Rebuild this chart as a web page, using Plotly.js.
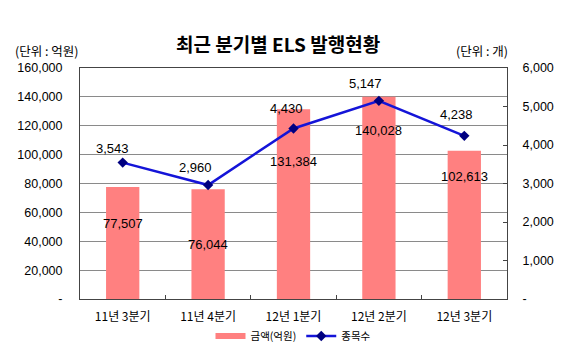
<!DOCTYPE html>
<html><head><meta charset="utf-8">
<script src="https://cdn.plot.ly/plotly-3.0.1.min.js"></script>
<style>html,body{margin:0;padding:0;background:#fff}#c{width:580px;height:357px}</style>
</head><body><div id="c"></div>
<script>
const categories = ["11년 3분기","11년 4분기","12년 1분기","12년 2분기","12년 3분기"];
const amounts = [77507, 76044, 131384, 140028, 102613];
const counts = [3543, 2960, 4430, 5147, 4238];
const amountLabels = ["77,507","76,044","131,384","140,028","102,613"];
const countLabels = ["3,543","2,960","4,430","5,147","4,238"];
const leftTickVals = [0,20000,40000,60000,80000,100000,120000,140000,160000];
const leftTickText = ["-","20,000","40,000","60,000","80,000","100,000","120,000","140,000","160,000"];
const rightTickVals = [0,1000,2000,3000,4000,5000,6000];
const rightTickText = ["-","1,000","2,000","3,000","4,000","5,000","6,000"];

// label offsets (pixels) relative to marks
const barLabelShift = [-36,-55,-52,-34,-26];
const cntLabelDx = [-10,-13,-7,-13,-8];
const cntLabelDy = [14,18,20,17,21];

const F = "Liberation Sans, Arial, Noto Sans CJK KR, sans-serif";
const FK = "Noto Sans CJK KR, sans-serif";

const traces = [
  {type:"bar", x:categories, y:amounts, name:"금액(억원)", marker:{color:"#FF8080"}, width:0.39, yaxis:"y", showlegend:false},
  {type:"scatter", mode:"lines", x:[null], y:[null], name:"금액(억원)", yaxis:"y",
   line:{color:"#FF8080", width:6}, showlegend:true},
  {type:"scatter", mode:"lines+markers", x:categories, y:counts, name:"종목수", yaxis:"y2",
   line:{color:"#1414D8", width:2.5}, marker:{symbol:"diamond", size:8, color:"#000080"}}
];

const ann = [];
categories.forEach((c,i)=>{
  ann.push({x:c, y:amounts[i], xref:"x", yref:"y", text:amountLabels[i], showarrow:false,
    yshift:barLabelShift[i], font:{family:F, size:13, color:"#000"}});
  ann.push({x:c, y:counts[i], xref:"x", yref:"y2", text:countLabels[i], showarrow:false,
    xshift:cntLabelDx[i], yshift:cntLabelDy[i], font:{family:F, size:13, color:"#000"}});
});
ann.push({xref:"paper", yref:"paper", x:0.464, y:1.0, yanchor:"middle", yshift:25, text:"<b>최근 분기별 ELS 발행현황</b>", showarrow:false,
  font:{family:FK, size:19, color:"#000"}});
ann.push({xref:"paper", yref:"paper", x:-0.157, y:1.0, yanchor:"middle", yshift:18, xanchor:"left", text:"(단위 : 억원)", showarrow:false,
  font:{family:FK, size:12.5, color:"#000"}});
ann.push({xref:"paper", yref:"paper", x:1.007, y:1.0, yanchor:"middle", yshift:18, xanchor:"right", text:"(단위 : 개)", showarrow:false,
  font:{family:FK, size:12.5, color:"#000"}});

const layout = {
  width:580, height:357, margin:{l:80, r:73, t:68, b:58, autoexpand:false},
  paper_bgcolor:"#fff", plot_bgcolor:"#fff",
  showlegend:true,
  legend:{orientation:"h", x:0.50, xanchor:"center", y:-0.16, yanchor:"middle", bgcolor:"rgba(0,0,0,0)",
    font:{family:FK, size:10.5, color:"#000"}, itemwidth:30, tracegroupgap:0},
  xaxis:{type:"category", showline:true, linecolor:"#444", linewidth:1, mirror:true,
    ticks:"inside", tickson:"boundaries", ticklen:4, tickcolor:"#444", ticklabelstandoff:7,
    tickfont:{family:FK, size:12, color:"#000"}, showgrid:false},
  yaxis:{range:[0,160000], tickvals:leftTickVals, ticktext:leftTickText, showgrid:true, gridcolor:"#8a8a8a",
    gridwidth:1, showline:true, linecolor:"#444", zeroline:false, ticks:"", ticklabelstandoff:14,
    tickfont:{family:F, size:12.5, color:"#000"}},
  yaxis2:{range:[0,6000], overlaying:"y", side:"right", tickvals:rightTickVals, ticktext:rightTickText,
    showgrid:false, zeroline:false, showline:true, linecolor:"#444", ticks:"inside", ticklen:4, tickcolor:"#444",
    ticklabelstandoff:12, tickfont:{family:F, size:12.5, color:"#000"}},
  annotations:ann
};
Plotly.newPlot("c", traces, layout, {displayModeBar:false, staticPlot:true});
</script></body></html>
